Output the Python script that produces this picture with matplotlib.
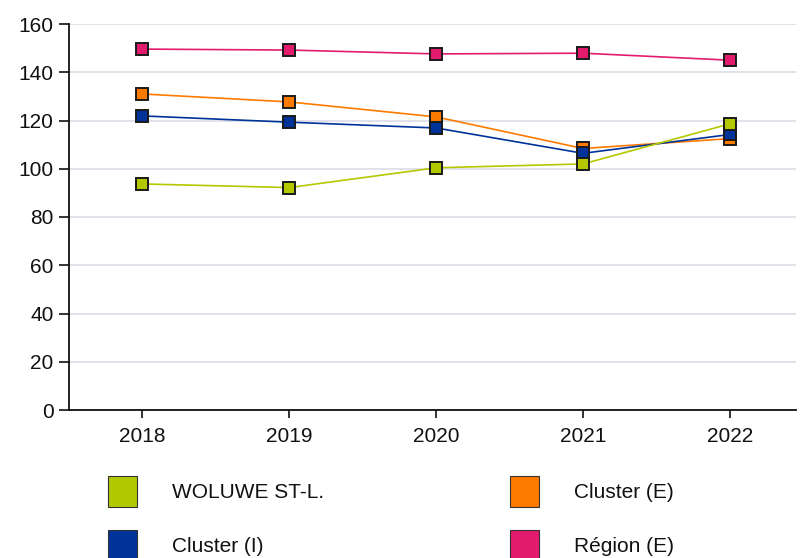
import matplotlib
matplotlib.use('Agg')
from matplotlib import pyplot as plt
from matplotlib.patches import Rectangle

plt.rcParams['font.family'] = ['Liberation Sans', 'DejaVu Sans']

# données
years = [2018, 2019, 2020, 2021, 2022]
woluwe = [93.7, 92.2, 100.4, 102.0, 118.6]
cluster_i = [121.9, 119.3, 116.9, 106.4, 114.2]
cluster_e = [131.0, 127.7, 121.5, 108.4, 112.5]
region_e = [149.6, 149.2, 147.6, 147.9, 145.0]

labels = ['WOLUWE ST-L.', 'Cluster (I)', 'Cluster (E)', 'Région (E)']
colors = ['#b4c800', '#003399', '#ff7b00', '#e31b6d']
series = [woluwe, cluster_i, cluster_e, region_e]

fig = plt.figure(figsize=(8.01, 5.58), dpi=100)
ax = fig.add_axes([69 / 801, 1 - 410 / 558, (796 - 69) / 801, (410 - 24) / 558])

# ordre de tracé : la région d'abord, WOLUWE au-dessus
for i in [3, 2, 1, 0]:
    ax.plot(years, series[i], color=colors[i], lw=1.2, marker='s', ms=8.8,
            mfc=colors[i], mec='#1a1a1a', mew=1.4, zorder=3 + (3 - i))

ax.set_ylim(0, 160)
ax.set_xlim(2017.5, 2022.45)
ax.set_xticks(years)
ax.set_yticks(range(0, 161, 20))
ax.grid(axis='y', color='#dcdce8', lw=1.2)
ax.set_axisbelow(True)
for s in ['top', 'right']:
    ax.spines[s].set_visible(False)
for s in ['left', 'bottom']:
    ax.spines[s].set_linewidth(1.3)
    ax.spines[s].set_color('#111111')
ax.tick_params(axis='y', length=7, width=1.2, pad=4, labelsize=15, colors='#111111')
ax.tick_params(axis='x', length=6, width=1.2, pad=6, labelsize=15, colors='#111111')

# légende dessinée à la main (2 colonnes)
legend_pos = [(108, 476), (108, 530), (510, 476), (510, 530)]
for (px, py), lab, col in zip(legend_pos, labels, colors):
    fig.add_artist(Rectangle((px / 801, 1 - (py + 31) / 558), 29 / 801, 31 / 558,
                             transform=fig.transFigure, facecolor=col,
                             edgecolor='#333333', lw=0.8))
    fig.text((px + 64) / 801, 1 - (py + 17) / 558, lab, fontsize=15,
             va='center', ha='left', color='#111111')

fig.savefig('out.png', dpi=100)
